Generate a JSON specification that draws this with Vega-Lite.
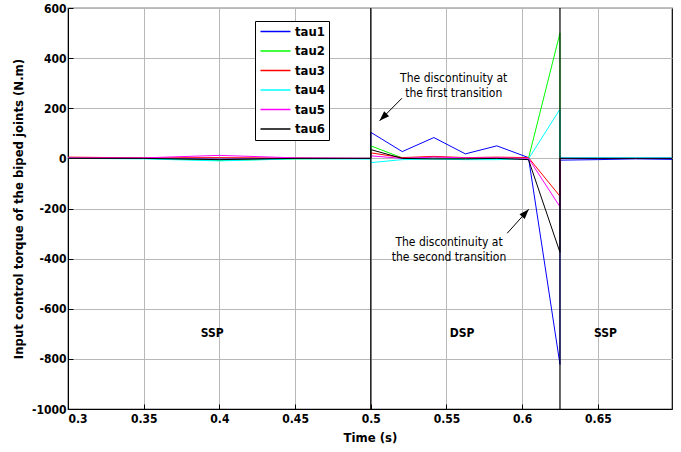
{
  "$schema": "https://vega.github.io/schema/vega-lite/v6.json",
  "width": 604,
  "height": 401,
  "autosize": {"type": "none"},
  "padding": {"left": 68, "top": 8, "right": 9, "bottom": 43},
  "background": "white",
  "config": {
    "view": {"stroke": "black", "strokeWidth": 1.2},
    "font": "DejaVu Sans Condensed, Liberation Sans Narrow, sans-serif",
    "axis": {
      "labelFont": "DejaVu Sans Condensed, Liberation Sans Narrow, sans-serif",
      "titleFont": "DejaVu Sans Condensed, Liberation Sans Narrow, sans-serif",
      "labelFontWeight": "bold",
      "titleFontWeight": "bold",
      "labelFontSize": 12,
      "titleFontSize": 13,
      "labelColor": "black",
      "titleColor": "black",
      "gridColor": "#b8b8b8",
      "gridOpacity": 1,
      "gridWidth": 1,
      "domainColor": "black",
      "tickColor": "black",
      "tickSize": -5
    }
  },
  "datasets": {
    "torque": [
      {"t": 0.3, "v": 2, "s": "tau1", "i": 0},
      {"t": 0.35, "v": 0, "s": "tau1", "i": 1},
      {"t": 0.4, "v": -3, "s": "tau1", "i": 2},
      {"t": 0.45, "v": 0, "s": "tau1", "i": 3},
      {"t": 0.5, "v": 0, "s": "tau1", "i": 4},
      {"t": 0.5, "v": 104, "s": "tau1", "i": 5},
      {"t": 0.5208, "v": 27, "s": "tau1", "i": 6},
      {"t": 0.5417, "v": 83, "s": "tau1", "i": 7},
      {"t": 0.5625, "v": 18, "s": "tau1", "i": 8},
      {"t": 0.5833, "v": 50, "s": "tau1", "i": 9},
      {"t": 0.6042, "v": 3, "s": "tau1", "i": 10},
      {"t": 0.625, "v": -822, "s": "tau1", "i": 11},
      {"t": 0.625, "v": -7, "s": "tau1", "i": 12},
      {"t": 0.65, "v": -5, "s": "tau1", "i": 13},
      {"t": 0.675, "v": -2, "s": "tau1", "i": 14},
      {"t": 0.699, "v": -4, "s": "tau1", "i": 15},

      {"t": 0.3, "v": 3, "s": "tau2", "i": 0},
      {"t": 0.35, "v": 0, "s": "tau2", "i": 1},
      {"t": 0.4, "v": -8, "s": "tau2", "i": 2},
      {"t": 0.45, "v": -2, "s": "tau2", "i": 3},
      {"t": 0.5, "v": 0, "s": "tau2", "i": 4},
      {"t": 0.5, "v": 50, "s": "tau2", "i": 5},
      {"t": 0.5208, "v": 2, "s": "tau2", "i": 6},
      {"t": 0.5417, "v": 2, "s": "tau2", "i": 7},
      {"t": 0.5625, "v": 0, "s": "tau2", "i": 8},
      {"t": 0.5833, "v": -2, "s": "tau2", "i": 9},
      {"t": 0.6042, "v": 0, "s": "tau2", "i": 10},
      {"t": 0.625, "v": 500, "s": "tau2", "i": 11},
      {"t": 0.625, "v": 0, "s": "tau2", "i": 12},
      {"t": 0.65, "v": 0, "s": "tau2", "i": 13},
      {"t": 0.675, "v": 0, "s": "tau2", "i": 14},
      {"t": 0.699, "v": 0, "s": "tau2", "i": 15},

      {"t": 0.3, "v": 5, "s": "tau3", "i": 0},
      {"t": 0.35, "v": 2, "s": "tau3", "i": 1},
      {"t": 0.4, "v": 3, "s": "tau3", "i": 2},
      {"t": 0.45, "v": 1, "s": "tau3", "i": 3},
      {"t": 0.5, "v": 0, "s": "tau3", "i": 4},
      {"t": 0.5, "v": 22, "s": "tau3", "i": 5},
      {"t": 0.5208, "v": 3, "s": "tau3", "i": 6},
      {"t": 0.5417, "v": 8, "s": "tau3", "i": 7},
      {"t": 0.5625, "v": 3, "s": "tau3", "i": 8},
      {"t": 0.5833, "v": 5, "s": "tau3", "i": 9},
      {"t": 0.6042, "v": 3, "s": "tau3", "i": 10},
      {"t": 0.625, "v": -151, "s": "tau3", "i": 11},
      {"t": 0.625, "v": 2, "s": "tau3", "i": 12},
      {"t": 0.65, "v": 0, "s": "tau3", "i": 13},
      {"t": 0.675, "v": 0, "s": "tau3", "i": 14},
      {"t": 0.699, "v": 1, "s": "tau3", "i": 15},

      {"t": 0.3, "v": 0, "s": "tau4", "i": 0},
      {"t": 0.35, "v": -2, "s": "tau4", "i": 1},
      {"t": 0.4, "v": -10, "s": "tau4", "i": 2},
      {"t": 0.45, "v": -2, "s": "tau4", "i": 3},
      {"t": 0.5, "v": -3, "s": "tau4", "i": 4},
      {"t": 0.5, "v": -17, "s": "tau4", "i": 5},
      {"t": 0.5208, "v": -5, "s": "tau4", "i": 6},
      {"t": 0.5417, "v": -3, "s": "tau4", "i": 7},
      {"t": 0.5625, "v": -5, "s": "tau4", "i": 8},
      {"t": 0.5833, "v": -5, "s": "tau4", "i": 9},
      {"t": 0.6042, "v": -2, "s": "tau4", "i": 10},
      {"t": 0.625, "v": 196, "s": "tau4", "i": 11},
      {"t": 0.625, "v": 3, "s": "tau4", "i": 12},
      {"t": 0.65, "v": 3, "s": "tau4", "i": 13},
      {"t": 0.675, "v": 3, "s": "tau4", "i": 14},
      {"t": 0.699, "v": 3, "s": "tau4", "i": 15},

      {"t": 0.3, "v": 2, "s": "tau5", "i": 0},
      {"t": 0.35, "v": 2, "s": "tau5", "i": 1},
      {"t": 0.4, "v": 12, "s": "tau5", "i": 2},
      {"t": 0.45, "v": 2, "s": "tau5", "i": 3},
      {"t": 0.5, "v": 0, "s": "tau5", "i": 4},
      {"t": 0.5, "v": 10, "s": "tau5", "i": 5},
      {"t": 0.5208, "v": 0, "s": "tau5", "i": 6},
      {"t": 0.5417, "v": 5, "s": "tau5", "i": 7},
      {"t": 0.5625, "v": 2, "s": "tau5", "i": 8},
      {"t": 0.5833, "v": 2, "s": "tau5", "i": 9},
      {"t": 0.6042, "v": 0, "s": "tau5", "i": 10},
      {"t": 0.625, "v": -193, "s": "tau5", "i": 11},
      {"t": 0.625, "v": 0, "s": "tau5", "i": 12},
      {"t": 0.65, "v": 0, "s": "tau5", "i": 13},
      {"t": 0.675, "v": 0, "s": "tau5", "i": 14},
      {"t": 0.699, "v": 0, "s": "tau5", "i": 15},

      {"t": 0.3, "v": 0, "s": "tau6", "i": 0},
      {"t": 0.35, "v": 0, "s": "tau6", "i": 1},
      {"t": 0.4, "v": -5, "s": "tau6", "i": 2},
      {"t": 0.45, "v": 0, "s": "tau6", "i": 3},
      {"t": 0.5, "v": 0, "s": "tau6", "i": 4},
      {"t": 0.5, "v": 35, "s": "tau6", "i": 5},
      {"t": 0.5208, "v": 0, "s": "tau6", "i": 6},
      {"t": 0.5417, "v": -2, "s": "tau6", "i": 7},
      {"t": 0.5625, "v": -2, "s": "tau6", "i": 8},
      {"t": 0.5833, "v": 0, "s": "tau6", "i": 9},
      {"t": 0.6042, "v": -5, "s": "tau6", "i": 10},
      {"t": 0.625, "v": -375, "s": "tau6", "i": 11},
      {"t": 0.625, "v": 0, "s": "tau6", "i": 12},
      {"t": 0.65, "v": 0, "s": "tau6", "i": 13},
      {"t": 0.675, "v": 0, "s": "tau6", "i": 14},
      {"t": 0.699, "v": 0, "s": "tau6", "i": 15}
    ],
    "phases": [
      {"t": 0.3952, "v": -697, "label": "SSP"},
      {"t": 0.5603, "v": -697, "label": "DSP"},
      {"t": 0.6551, "v": -697, "label": "SSP"}
    ],
    "notes": [
      {"t": 0.5548, "v": 322, "label": "The discontinuity at"},
      {"t": 0.5548, "v": 262, "label": "the first transition"},
      {"t": 0.5517, "v": -335, "label": "The discontinuity at"},
      {"t": 0.5517, "v": -395, "label": "the second transition"}
    ],
    "arrows": [
      {"t": 0.5206, "v": 240, "t2": 0.5058, "v2": 150, "ang": 225},
      {"t": 0.5901, "v": -299, "t2": 0.6044, "v2": -203, "ang": 42}
    ],
    "transitions": [{"t": 0.5}, {"t": 0.625}]
  },
  "layer": [
    {
      "data": {"name": "torque"},
      "mark": {"type": "line", "strokeWidth": 1, "clip": true},
      "encoding": {
        "x": {
          "field": "t", "type": "quantitative",
          "scale": {"domain": [0.3, 0.699], "nice": false, "zero": false},
          "axis": {
            "title": "Time (s)",
            "values": [0.3, 0.35, 0.4, 0.45, 0.5, 0.55, 0.6, 0.65],
            "format": ".2~f",
            "labelPadding": 9,
            "titlePadding": 7
          }
        },
        "y": {
          "field": "v", "type": "quantitative",
          "scale": {"domain": [-1000, 600], "nice": false},
          "axis": {
            "title": "Input control torque of the biped joints (N.m)",
            "values": [-1000, -800, -600, -400, -200, 0, 200, 400, 600],
            "labelExpr": "'' + datum.value",
            "labelPadding": 7,
            "titlePadding": 6
          }
        },
        "color": {
          "field": "s", "type": "nominal",
          "scale": {
            "domain": ["tau1", "tau2", "tau3", "tau4", "tau5", "tau6"],
            "range": ["#0000ff", "#00ff00", "#ff0000", "#00ffff", "#ff00ff", "#000000"]
          },
          "legend": {
            "title": null,
            "orient": "none",
            "legendX": 187,
            "legendY": 13,
            "symbolType": "M-1,0L5,0",
            "symbolSize": 100,
            "symbolStrokeWidth": 1.5,
            "labelFontWeight": "bold",
            "labelFontSize": 13,
            "labelColor": "black",
            "labelFont": "DejaVu Sans Condensed, Liberation Sans Narrow, sans-serif",
            "labelOffset": 23,
            "rowPadding": 5.5,
            "strokeColor": "black",
            "fillColor": "white",
            "padding": 4
          }
        },
        "order": {"field": "i", "type": "quantitative"}
      }
    },
    {
      "data": {"name": "transitions"},
      "mark": {"type": "rule", "color": "black", "strokeWidth": 1.2},
      "encoding": {"x": {"field": "t", "type": "quantitative"}}
    },
    {
      "data": {"name": "phases"},
      "mark": {"type": "text", "fontWeight": "bold", "fontSize": 12, "color": "black"},
      "encoding": {
        "x": {"field": "t", "type": "quantitative"},
        "y": {"field": "v", "type": "quantitative"},
        "text": {"field": "label"}
      }
    },
    {
      "data": {"name": "notes"},
      "mark": {"type": "text", "fontSize": 12, "color": "black"},
      "encoding": {
        "x": {"field": "t", "type": "quantitative"},
        "y": {"field": "v", "type": "quantitative"},
        "text": {"field": "label"}
      }
    },
    {
      "data": {"name": "arrows"},
      "mark": {"type": "rule", "color": "black", "strokeWidth": 1},
      "encoding": {
        "x": {"field": "t", "type": "quantitative"},
        "y": {"field": "v", "type": "quantitative"},
        "x2": {"field": "t2"},
        "y2": {"field": "v2"}
      }
    },
    {
      "data": {"name": "arrows"},
      "mark": {"type": "point", "shape": "M0,0 L-0.35,1 L0.35,1 Z", "filled": true, "color": "black", "size": 400, "opacity": 1},
      "encoding": {
        "x": {"field": "t2", "type": "quantitative"},
        "y": {"field": "v2", "type": "quantitative"},
        "angle": {"field": "ang", "type": "quantitative", "scale": null}
      }
    }
  ]
}
